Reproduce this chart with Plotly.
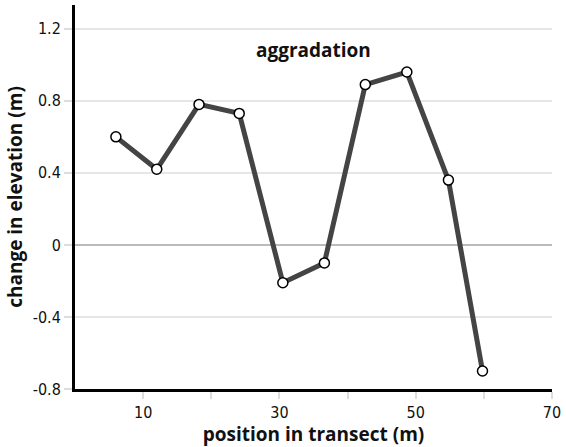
import plotly.graph_objects as go

position = [6, 12, 18.2, 24.1, 30.5, 36.6, 42.6, 48.7, 54.8, 59.8]
elevation_change = [0.60, 0.42, 0.78, 0.73, -0.21, -0.10, 0.89, 0.96, 0.36, -0.70]

x_tickvals = [10, 20, 30, 40, 50, 60, 70]
x_ticktext = ["10", "", "30", "", "50", "", "70"]
y_tickvals = [-0.8, -0.4, 0, 0.4, 0.8, 1.2]
y_ticktext = ["-0.8", "-0.4", "0", "0.4", "0.8", "1.2"]

tick_font = dict(family="DejaVu Sans Condensed, Liberation Sans Narrow, sans-serif", size=16, color="#111")
title_font = dict(family="Open Sans, Lato, sans-serif", size=19, color="#111")

fig = go.Figure()
fig.add_trace(go.Scatter(
    x=position, y=elevation_change, mode="lines+markers",
    line=dict(color="#444444", width=5),
    marker=dict(size=10, color="white", line=dict(color="black", width=1.5)),
    showlegend=False, cliponaxis=False,
))

fig.add_annotation(x=35, y=1.08, text="<b>aggradation</b>", showarrow=False,
                   font=dict(family="Open Sans, Lato, sans-serif", size=19, color="#111"))

fig.update_layout(
    width=566, height=447,
    margin=dict(l=75, r=11, t=5, b=58),
    plot_bgcolor="white", paper_bgcolor="white",
    xaxis=dict(
        range=[0, 70], tickvals=x_tickvals, ticktext=x_ticktext,
        showgrid=False, zeroline=False,
        showline=True, linecolor="black", linewidth=3,
        ticks="outside", ticklen=7, tickcolor="#dddddd", tickwidth=2,
        tickfont=tick_font,
        title=dict(text="<b>position in transect (m)</b>", font=title_font, standoff=2),
    ),
    yaxis=dict(
        range=[-0.8, 1.332], tickvals=y_tickvals, ticktext=y_ticktext,
        showgrid=True, gridcolor="#e6e6e6", gridwidth=2,
        zeroline=True, zerolinecolor="#bbbbbb", zerolinewidth=2,
        showline=True, linecolor="black", linewidth=3,
        ticks="outside", ticklen=8, tickcolor="#dddddd", tickwidth=2,
        tickfont=tick_font,
        title=dict(text="<b>change in elevation (m)</b>", font=title_font, standoff=6),
    ),
)

fig.write_html("out.html", config={"displayModeBar": False},
               post_script="document.body.style.margin='0';document.body.style.padding='0';")
